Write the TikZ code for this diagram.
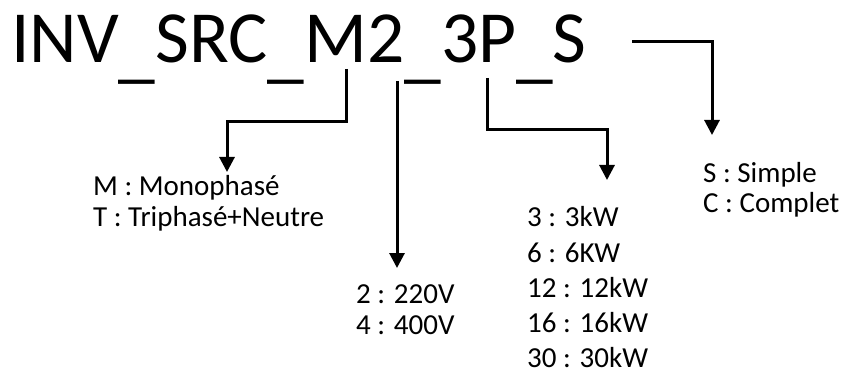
\documentclass[tikz,border=0pt]{standalone}
\usepackage{fontspec}
\setmainfont{Carlito}
\usetikzlibrary{arrows.meta, positioning}

\newcommand{\usc}{\raisebox{-12pt}{\_}}

\begin{document}
\begin{tikzpicture}[x=1pt,y=-1pt]
\tikzstyle{every node}=[inner sep=0pt, anchor=base west]
\tikzstyle{code}=[font=\fontsize{73.5}{80}\selectfont]
\tikzstyle{legend}=[font=\fontsize{29}{35}\selectfont]
\tikzstyle{link}=[line width=3pt, -{Triangle[width=15pt,length=15pt]}]

\useasboundingbox (0,0) rectangle (846,374);

\node[code] (ref) at (11,63) {INV\usc SRC\usc M2\usc 3P\usc S};

% legends
\node[legend] (mono1) at (93,196) {M : Monophasé};
\node[legend] (mono2) at ([yshift=-30pt]mono1.base west) {T : Triphasé+Neutre};

\node[legend] (volt1) at (356,303) {2 : 220V};
\node[legend] (volt2) at ([yshift=-31pt]volt1.base west) {4 : 400V};

\node[legend] (pow1) at (527,227) {3 : 3kW};
\node[legend] (pow2) at ([yshift=-35pt]pow1.base west) {6 : 6KW};
\node[legend] (pow3) at ([yshift=-35pt]pow2.base west) {12 : 12kW};
\node[legend] (pow4) at ([yshift=-35pt]pow3.base west) {16 : 16kW};
\node[legend] (pow5) at ([yshift=-35pt]pow4.base west) {30 : 30kW};

\node[legend] (sel1) at (703,183) {S : Simple};
\node[legend] (sel2) at ([yshift=-30pt]sel1.base west) {C : Complet};

% connectors
\coordinate (mStart) at (346,69);
\coordinate (mBend) at (227,122);
\coordinate (mTip) at (227,172);
\coordinate (vStart) at (397,81);
\coordinate (vTip) at (397,268);
\coordinate (pStart) at (487,78);
\coordinate (pBend) at (607,130);
\coordinate (pTip) at (607,180);
\coordinate (sStart) at (632,42);
\coordinate (sTip) at (712,135);

\draw[link] (mStart) |- (mBend) -- (mTip);
\draw[link] (vStart) -- (vTip);
\draw[link] (pStart) |- (pBend) -- (pTip);
\draw[link] (sStart) -| (sTip);
\end{tikzpicture}
\end{document}
